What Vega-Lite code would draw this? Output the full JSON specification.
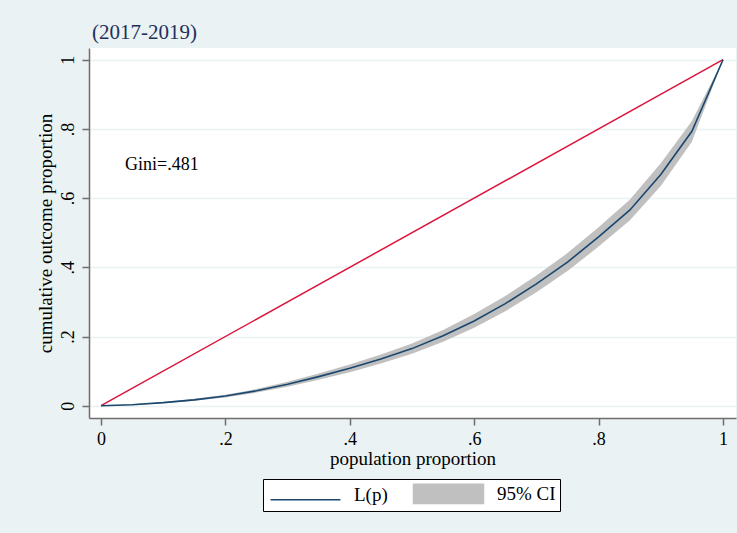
{
  "$schema": "https://vega.github.io/schema/vega-lite/v6.json",
  "width": 647,
  "height": 370,
  "autosize": {"type": "none"},
  "padding": {"left": 89, "top": 48, "right": 1, "bottom": 115},
  "background": "#EAF2F3",
  "config": {
    "view": {"fill": "white", "stroke": null},
    "font": "Liberation Serif"
  },
  "title": {
    "text": "(2017-2019)",
    "anchor": "start",
    "frame": "group",
    "fontSize": 21,
    "fontWeight": "normal",
    "font": "Liberation Serif",
    "color": "#1E2F5C",
    "baseline": "alphabetic",
    "offset": -12,
    "dx": 3
  },
  "datasets": {
    "lorenz": [
      {"p": 0, "l": 0, "lo": 0, "hi": 0},
      {"p": 0.05, "l": 0.003, "lo": 0.002, "hi": 0.004},
      {"p": 0.1, "l": 0.009, "lo": 0.007, "hi": 0.011},
      {"p": 0.15, "l": 0.017, "lo": 0.014, "hi": 0.02},
      {"p": 0.2, "l": 0.028, "lo": 0.024, "hi": 0.032},
      {"p": 0.25, "l": 0.043, "lo": 0.038, "hi": 0.048},
      {"p": 0.3, "l": 0.062, "lo": 0.055, "hi": 0.069},
      {"p": 0.35, "l": 0.084, "lo": 0.075, "hi": 0.093},
      {"p": 0.4, "l": 0.108, "lo": 0.097, "hi": 0.119},
      {"p": 0.45, "l": 0.135, "lo": 0.122, "hi": 0.148},
      {"p": 0.5, "l": 0.165, "lo": 0.15, "hi": 0.18},
      {"p": 0.55, "l": 0.202, "lo": 0.185, "hi": 0.219},
      {"p": 0.6, "l": 0.245, "lo": 0.225, "hi": 0.265},
      {"p": 0.65, "l": 0.295, "lo": 0.273, "hi": 0.317},
      {"p": 0.7, "l": 0.352, "lo": 0.328, "hi": 0.376},
      {"p": 0.75, "l": 0.415, "lo": 0.389, "hi": 0.441},
      {"p": 0.8, "l": 0.488, "lo": 0.46, "hi": 0.516},
      {"p": 0.85, "l": 0.565, "lo": 0.535, "hi": 0.595},
      {"p": 0.9, "l": 0.668, "lo": 0.635, "hi": 0.701},
      {"p": 0.95, "l": 0.793, "lo": 0.763, "hi": 0.823},
      {"p": 1, "l": 1, "lo": 1, "hi": 1}
    ],
    "equality": [
      {"p": 0, "l": 0},
      {"p": 1, "l": 1}
    ],
    "note": [
      {"p": 0.0386, "l": 0.68, "text": "Gini=.481"}
    ]
  },
  "encoding": {
    "x": {
      "field": "p",
      "type": "quantitative",
      "scale": {"domain": [-0.0193, 1.0209], "nice": false, "zero": false},
      "axis": {
        "values": [0, 0.2, 0.4, 0.6, 0.8, 1],
        "labelExpr": "datum.value == 0 ? '0' : datum.value == 1 ? '1' : replace(format(datum.value, '.1f'), '0.', '.')",
        "title": "population proportion",
        "titleFont": "Liberation Serif",
        "titleFontSize": 19,
        "titleFontWeight": "normal",
        "titleColor": "black",
        "titlePadding": 1,
        "labelFont": "Liberation Serif",
        "labelFontSize": 18,
        "labelColor": "black",
        "labelPadding": 5,
        "tickSize": 7,
        "tickWidth": 1.5,
        "tickColor": "#6E6E6E",
        "domainColor": "#6E6E6E",
        "domainWidth": 1.5,
        "grid": false
      }
    }
  },
  "layer": [
    {
      "data": {"name": "lorenz"},
      "mark": {"type": "area", "opacity": 1},
      "encoding": {
        "y": {
          "field": "lo",
          "type": "quantitative",
          "scale": {"domain": [-0.0355, 1.0338], "nice": false, "zero": false},
          "axis": {
            "values": [0, 0.2, 0.4, 0.6, 0.8, 1],
            "labelExpr": "datum.value == 0 ? '0' : datum.value == 1 ? '1' : replace(format(datum.value, '.1f'), '0.', '.')",
            "labelAngle": 270,
            "labelAlign": "center",
            "labelBaseline": "bottom",
            "title": "cumulative outcome proportion",
            "titleFont": "Liberation Serif",
            "titleFontSize": 19,
            "titleFontWeight": "normal",
            "titleColor": "black",
            "titlePadding": 4,
            "labelFont": "Liberation Serif",
            "labelFontSize": 18,
            "labelColor": "black",
            "labelPadding": 5,
            "tickSize": 7,
            "tickWidth": 1.5,
            "tickColor": "#6E6E6E",
            "domainColor": "#6E6E6E",
            "domainWidth": 1.5,
            "grid": true,
            "gridColor": "#EAF2F3",
            "gridWidth": 1.5
          }
        },
        "y2": {"field": "hi"},
        "color": {
          "datum": "95% CI",
          "type": "nominal",
          "scale": {"domain": ["L(p)", "95% CI"], "range": ["#1A476F", "#C0C0C0"]},
          "legend": {
            "orient": "none",
            "legendX": 174,
            "legendY": 431,
            "direction": "horizontal",
            "title": null,
            "strokeColor": "black",
            "fillColor": "white",
            "padding": 4,
            "symbolSize": 361,
            "symbolOffset": 28,
            "labelOffset": 38,
            "columnPadding": 22,
            "labelFont": "Liberation Serif",
            "labelFontSize": 19,
            "labelColor": "black",
            "encode": {
              "symbols": {
                "update": {
                  "shape": {"signal": "datum.value == 'L(p)' ? 'M-3.68,0.47H3.68' : 'M-3.68,-1H3.68V1H-3.68Z'"},
                  "fill": {"signal": "datum.value == 'L(p)' ? 'transparent' : '#C0C0C0'"},
                  "stroke": {"signal": "datum.value == 'L(p)' ? '#1A476F' : 'transparent'"},
                  "strokeWidth": {"value": 1.6},
                  "opacity": {"value": 1}
                },
                "shape": {"signal": "datum.value == 'L(p)' ? 'M-3.68,0.47H3.68' : 'M-3.68,-1H3.68V1H-3.68Z'"},
                "fill": {"signal": "datum.value == 'L(p)' ? 'transparent' : '#C0C0C0'"},
                "stroke": {"signal": "datum.value == 'L(p)' ? '#1A476F' : 'transparent'"},
                "strokeWidth": {"value": 1.6},
                "opacity": {"value": 1}
              }
            }
          }
        }
      }
    },
    {
      "data": {"name": "equality"},
      "mark": {"type": "line", "color": "#DC143C", "strokeWidth": 1.5},
      "encoding": {
        "y": {"field": "l", "type": "quantitative"}
      }
    },
    {
      "data": {"name": "lorenz"},
      "mark": {"type": "line", "strokeWidth": 1.6},
      "encoding": {
        "y": {"field": "l", "type": "quantitative"},
        "color": {
          "datum": "L(p)",
          "type": "nominal",
          "legend": {
            "orient": "none",
            "legendX": 174,
            "legendY": 431,
            "direction": "horizontal",
            "title": null,
            "strokeColor": "black",
            "fillColor": "white",
            "padding": 4,
            "symbolSize": 361,
            "symbolOffset": 28,
            "labelOffset": 38,
            "columnPadding": 22,
            "labelFont": "Liberation Serif",
            "labelFontSize": 19,
            "labelColor": "black",
            "encode": {
              "symbols": {
                "update": {
                  "shape": {"signal": "datum.value == 'L(p)' ? 'M-3.68,0.47H3.68' : 'M-3.68,-1H3.68V1H-3.68Z'"},
                  "fill": {"signal": "datum.value == 'L(p)' ? 'transparent' : '#C0C0C0'"},
                  "stroke": {"signal": "datum.value == 'L(p)' ? '#1A476F' : 'transparent'"},
                  "strokeWidth": {"value": 1.6},
                  "opacity": {"value": 1}
                },
                "shape": {"signal": "datum.value == 'L(p)' ? 'M-3.68,0.47H3.68' : 'M-3.68,-1H3.68V1H-3.68Z'"},
                "fill": {"signal": "datum.value == 'L(p)' ? 'transparent' : '#C0C0C0'"},
                "stroke": {"signal": "datum.value == 'L(p)' ? '#1A476F' : 'transparent'"},
                "strokeWidth": {"value": 1.6},
                "opacity": {"value": 1}
              }
            }
          }
        }
      }
    },
    {
      "data": {"name": "note"},
      "mark": {"type": "text", "align": "left", "baseline": "alphabetic", "font": "Liberation Serif", "fontSize": 18, "color": "black"},
      "encoding": {
        "y": {"field": "l", "type": "quantitative"},
        "text": {"field": "text"}
      }
    }
  ]
}
